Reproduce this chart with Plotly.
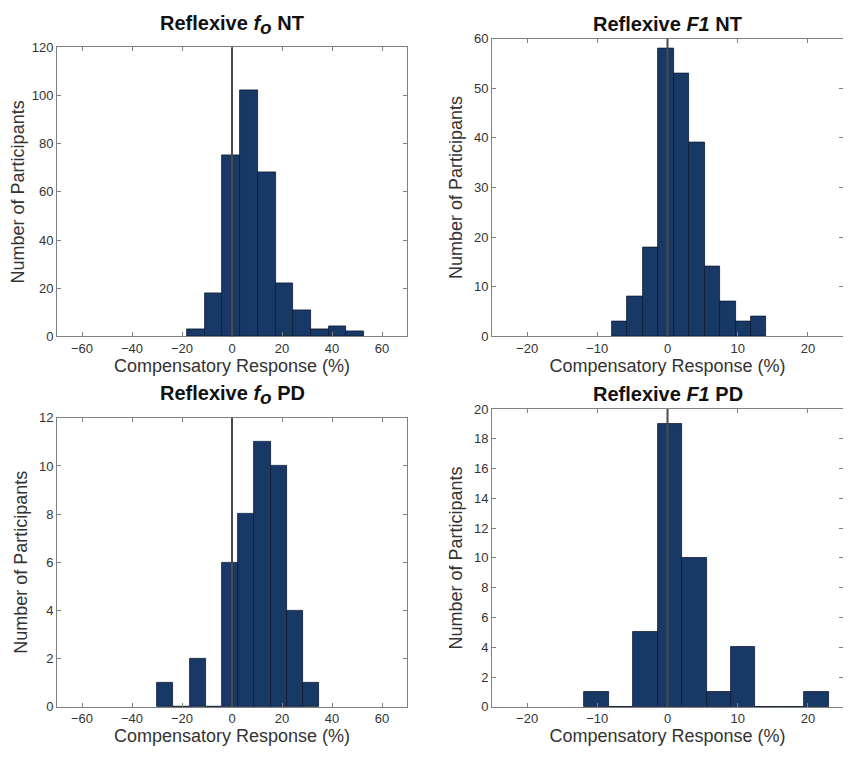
import plotly.graph_objects as go

# ---- data ----
fo_nt_edges = [-18.1, -11.0, -3.9, 3.2, 10.3, 17.4, 24.4, 31.5, 38.6, 45.7, 52.8]
fo_nt_counts = [3, 18, 75, 102, 68, 22, 11, 3, 4, 2]

f1_nt_edges = [-7.9, -5.7, -3.5, -1.3, 0.9, 3.1, 5.3, 7.5, 9.7, 11.9, 14.1]
f1_nt_counts = [3, 8, 18, 58, 53, 39, 14, 7, 3, 4]

fo_pd_edges = [-30.0, -23.5, -17.0, -10.6, -4.1, 2.4, 8.9, 15.4, 21.8, 28.3, 34.8]
fo_pd_counts = [1, 0, 2, 0, 6, 8, 11, 10, 4, 1]

f1_pd_edges = [-11.9, -8.4, -4.9, -1.4, 2.1, 5.6, 9.1, 12.5, 16.0, 19.5, 23.0]
f1_pd_counts = [1, 0, 5, 19, 10, 1, 4, 0, 0, 1]

titles = ["<b>Reflexive <i>f</i><sub><span style='font-size:19px'><i>o</i></span></sub> NT</b>",
          "<b>Reflexive <i>F1</i> NT</b>",
          "<b>Reflexive <i>f</i><sub><span style='font-size:19px'><i>o</i></span></sub> PD</b>",
          "<b>Reflexive <i>F1</i> PD</b>"]
x_ranges = [[-70, 70], [-25, 25], [-70, 70], [-25, 25]]
x_ticks = [[-60, -40, -20, 0, 20, 40, 60], [-20, -10, 0, 10, 20],
           [-60, -40, -20, 0, 20, 40, 60], [-20, -10, 0, 10, 20]]
y_ranges = [[0, 120], [0, 60], [0, 12], [0, 20]]
y_dticks = [20, 10, 2, 2]
x_label = "Compensatory Response (%)"
y_label = "Number of Participants"

panels = [(fo_nt_edges, fo_nt_counts), (f1_nt_edges, f1_nt_counts),
          (fo_pd_edges, fo_pd_counts), (f1_pd_edges, f1_pd_counts)]

OFF = 8  # default page body margin
W, H = 840, 750
# plot-area boxes in page pixels: (left, right, top, bottom)
boxes = [(57, 407, 41, 336), (492, 843, 32, 336),
         (57, 407, 419, 714), (492, 843, 410, 714)]
title_centers = [18, 17, 396, 395]

BAR = "#183866"
AXC = "#808080"
TXT = "#333333"
FONT = "Liberation Sans, Arial, sans-serif"

fig = go.Figure()
shapes = []
annotations = []
for i, ((edges, counts), box) in enumerate(zip(panels, boxes)):
    n = i + 1
    xa = "x" if n == 1 else f"x{n}"
    ya = "y" if n == 1 else f"y{n}"
    centers = [(a + b) / 2 for a, b in zip(edges[:-1], edges[1:])]
    widths = [b - a for a, b in zip(edges[:-1], edges[1:])]
    fig.add_trace(go.Bar(x=centers, y=counts, width=widths, xaxis=xa, yaxis=ya,
                         marker=dict(color=BAR, line=dict(color="#0c1c33", width=0.8)),
                         showlegend=False, hoverinfo="x+y"))
    l, r, t, b = [v - OFF for v in box]
    dom_x = [l / W, r / W]
    dom_y = [1 - b / H, 1 - t / H]
    common = dict(showline=True, linecolor=AXC, linewidth=1, mirror="ticks",
                  ticks="inside", ticklen=4, tickcolor=AXC, showgrid=False,
                  zeroline=False, tickfont=dict(family=FONT, size=13, color=TXT))
    fig.layout[("xaxis" if n == 1 else f"xaxis{n}")] = dict(
        domain=dom_x, anchor=ya, range=x_ranges[i], tickvals=x_ticks[i],
        title=dict(text=x_label, font=dict(family=FONT, size=18, color=TXT), standoff=2),
        **common)
    fig.layout[("yaxis" if n == 1 else f"yaxis{n}")] = dict(
        domain=dom_y, anchor=xa, range=y_ranges[i], dtick=y_dticks[i], tick0=0,
        title=dict(text=y_label, font=dict(family=FONT, size=18, color=TXT), standoff=6),
        **common)
    shapes.append(dict(type="line", xref=xa, yref=f"{ya} domain", x0=0, x1=0, y0=0, y1=1,
                       line=dict(color="#4a4a4a", width=2), layer="above"))
    annotations.append(dict(text=titles[i], xref="paper", yref="paper",
                            x=(dom_x[0] + dom_x[1]) / 2,
                            y=1 - (title_centers[i] - OFF) / H, yanchor="middle",
                            xanchor="center", showarrow=False,
                            font=dict(family=FONT, size=20, color="#111111")))

fig.update_layout(width=W, height=H, margin=dict(l=0, r=0, t=0, b=0),
                  plot_bgcolor="white", paper_bgcolor="white", bargap=0,
                  shapes=shapes, annotations=annotations)

fig.write_html("out.html")
